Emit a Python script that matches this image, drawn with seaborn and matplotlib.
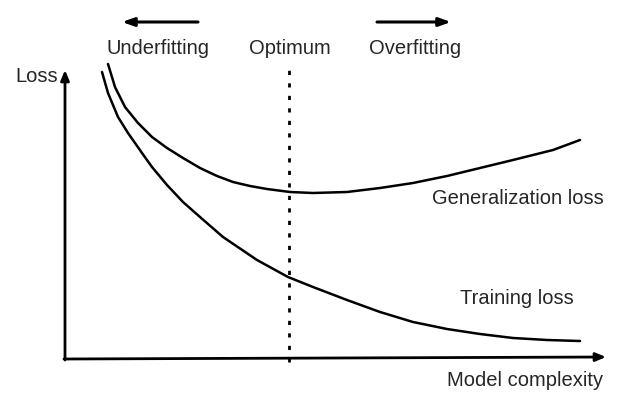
import matplotlib
matplotlib.use("Agg")
import matplotlib.pyplot as plt
import seaborn as sns
import pandas as pd

# Data (x: model complexity, y: loss; origin at axes corner)
train_x = [37, 43, 53, 63, 77, 87, 102, 118, 135, 158, 192, 223, 248, 282, 315, 348, 382, 415, 448, 482, 515]
train_y = [287, 266, 242, 226, 206, 192, 174, 157, 142, 122, 99, 82, 72, 59, 47, 37, 30, 25, 21, 19, 18]
gen_x = [43, 50, 60, 73, 87, 102, 118, 135, 152, 168, 185, 202, 225, 248, 282, 315, 348, 382, 415, 448, 488, 515]
gen_y = [295, 272, 252, 236, 222, 211, 201, 191, 183, 177, 173, 170, 167, 166, 167, 171, 176, 183, 191, 199, 209, 219]
optimum_x = 224
labels_top = ["Underfitting", "Optimum", "Overfitting"]

df = pd.concat([
    pd.DataFrame({"complexity": train_x, "loss": train_y, "curve": "Training loss"}),
    pd.DataFrame({"complexity": gen_x, "loss": gen_y, "curve": "Generalization loss"}),
])

sns.set_style("white")
plt.rcParams["font.family"] = ["Liberation Sans", "DejaVu Sans"]

fig = plt.figure(figsize=(6.31, 3.93), dpi=100)
ax = fig.add_axes([0, 0, 1, 1])
sns.lineplot(data=df, x="complexity", y="loss", units="curve", estimator=None,
             color="black", linewidth=1.8, sort=False, ax=ax, legend=False)
for ln in ax.lines:
    ln.set_solid_joinstyle("round")
    ln.set_solid_capstyle("round")

ax.set_xlim(-65, 566)
ax.set_ylim(-34, 359)
ax.axis("off")

# axes arrows
ax.annotate("", xy=(541, 2), xytext=(-1, 0),
            arrowprops=dict(arrowstyle="-|>,head_length=0.6,head_width=0.25", lw=2, color="black",
                            shrinkA=0, shrinkB=0))
ax.annotate("", xy=(0, 289), xytext=(0, -1),
            arrowprops=dict(arrowstyle="-|>,head_length=0.6,head_width=0.25", lw=2, color="black",
                            shrinkA=0, shrinkB=0))

# dotted optimum line
ax.plot([optimum_x, optimum_x], [-3, 289], color="black", lw=2, linestyle=(0, (1.5, 3)))

fs = 14.5
ax.text(-7, 283, "Loss", ha="right", va="center", fontsize=fs)
ax.text(93, 310, labels_top[0], ha="center", va="center", fontsize=fs)
ax.text(225, 310, labels_top[1], ha="center", va="center", fontsize=fs)
ax.text(350, 310, labels_top[2], ha="center", va="center", fontsize=fs)
ax.text(453, 160, "Generalization loss", ha="center", va="center", fontsize=fs)
ax.text(452, 60, "Training loss", ha="center", va="center", fontsize=fs)
ax.text(382, -22, "Model complexity", ha="left", va="center", fontsize=fs)

# direction arrows
ax.annotate("", xy=(57, 337), xytext=(133, 337),
            arrowprops=dict(arrowstyle="-|>,head_length=0.7,head_width=0.25", lw=2.2, color="black",
                            shrinkA=0, shrinkB=0))
ax.annotate("", xy=(386, 337), xytext=(312, 337),
            arrowprops=dict(arrowstyle="-|>,head_length=0.7,head_width=0.25", lw=2.2, color="black",
                            shrinkA=0, shrinkB=0))

fig.savefig("out.png", dpi=100, facecolor="white")
